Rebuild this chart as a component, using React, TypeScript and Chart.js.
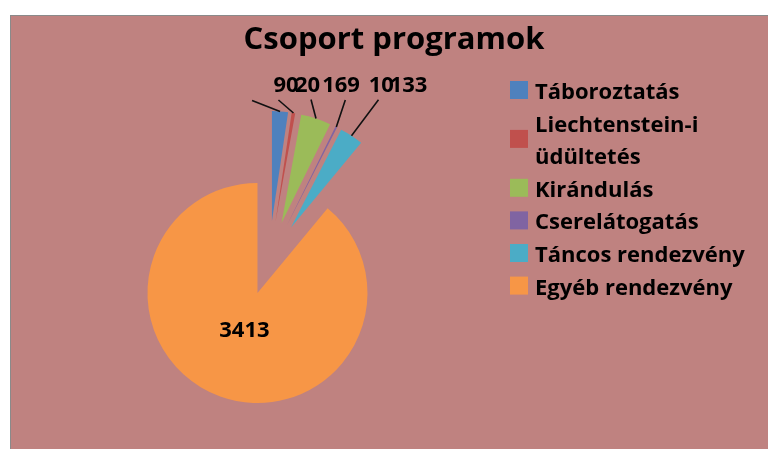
import React, { useEffect, useRef } from "react";
import { Chart, registerables } from "chart.js";

Chart.register(...registerables);

// ---- data ----
const title = "Csoport programok";
const categories = [
  "Táboroztatás",
  "Liechtenstein-i\nüdültetés",
  "Kirándulás",
  "Cserelátogatás",
  "Táncos rendezvény",
  "Egyéb rendezvény",
];
const values = [90, 20, 169, 10, 133, 3413];
const colors = ["#4F81BD", "#C0504D", "#9BBB59", "#8064A2", "#4BACC6", "#F79646"];

// ---- layout / style (not data) ----
const explodePx = [40, 40, 40, 40, 40, 34]; // slice explosion distance
const labelTextOffsets: (number[] | null)[] = [
  [6, -19],
  [14, -21],
  [25, -27],
  [45, -35],
  [57, -44],
  null,
];
const leaderOffsets: (number[] | null)[] = [
  [-28, -11],
  [-15, -13],
  [-5, -19],
  [9, -27],
  [27, -36],
  null,
];
const FONT = "'Open Sans', Lato, sans-serif";

const explodePlugin = {
  id: "explode",
  beforeDatasetsDraw(chart: any) {
    const meta = chart.getDatasetMeta(0);
    meta.data.forEach((arc: any, i: number) => {
      const mid = (arc.startAngle + arc.endAngle) / 2;
      arc._origX = arc.x;
      arc._origY = arc.y;
      arc.x = arc.x + Math.cos(mid) * explodePx[i];
      arc.y = arc.y + Math.sin(mid) * explodePx[i];
    });
  },
  afterDatasetsDraw(chart: any) {
    const ctx = chart.ctx as CanvasRenderingContext2D;
    const meta = chart.getDatasetMeta(0);
    ctx.save();
    ctx.fillStyle = "#000";
    ctx.strokeStyle = "#111";
    ctx.lineWidth = 1.6;
    ctx.font = `bold 22px ${FONT}`;
    ctx.textAlign = "center";
    ctx.textBaseline = "alphabetic";
    meta.data.forEach((arc: any, i: number) => {
      const mid = (arc.startAngle + arc.endAngle) / 2;
      const R = arc.outerRadius;
      const vx = arc.x;
      const vy = arc.y;
      const txt = String(values[i]);
      const lo = leaderOffsets[i];
      const to = labelTextOffsets[i];
      if (lo && to) {
        const px = vx + Math.cos(mid) * R;
        const py = vy + Math.sin(mid) * R;
        ctx.beginPath();
        ctx.moveTo(px, py);
        ctx.lineTo(px + lo[0], py + lo[1]);
        ctx.stroke();
        ctx.fillText(txt, px + to[0], py + to[1]);
      } else {
        const d = R * 0.35;
        const cx = vx + Math.cos(mid) * d;
        const cy = vy + Math.sin(mid) * d;
        ctx.fillText(txt, cx, cy + 8);
      }
      if (arc._origX !== undefined) {
        arc.x = arc._origX;
        arc.y = arc._origY;
      }
    });
    ctx.restore();
  },
  afterDraw(chart: any) {
    const ctx = chart.ctx as CanvasRenderingContext2D;
    ctx.save();
    // title
    ctx.fillStyle = "#000";
    ctx.font = `bold 31px ${FONT}`;
    ctx.textAlign = "center";
    ctx.textBaseline = "alphabetic";
    ctx.fillText(title, 383, 33);
    // legend
    const lineH = 32.6;
    let top = 57.7;
    ctx.font = `bold 22px ${FONT}`;
    ctx.textAlign = "left";
    categories.forEach((c, i) => {
      const lines = c.split("\n");
      const h = lines.length * lineH;
      const center = top + h / 2;
      ctx.fillStyle = colors[i];
      ctx.fillRect(499, center - 9, 18, 18);
      ctx.fillStyle = "#000";
      lines.forEach((ln, j) => {
        const lc = top + lineH * (j + 0.5);
        ctx.fillText(ln, 524, lc + 9);
      });
      top += h;
    });
    ctx.restore();
  },
};

export default function App() {
  const ref = useRef<HTMLCanvasElement>(null);
  useEffect(() => {
    if (!ref.current) return;
    const chart = new Chart(ref.current, {
      type: "pie",
      data: {
        labels: categories.map((c) => c.replace("\n", " ")),
        datasets: [
          {
            data: values,
            backgroundColor: colors,
            borderWidth: 0,
            radius: 110,
            clip: false as any,
          } as any,
        ],
      },
      options: {
        responsive: false,
        animation: false,
        layout: { padding: { left: 108, right: 349, top: 95, bottom: 38 } },
        plugins: {
          legend: { display: false },
          title: { display: false },
          tooltip: { enabled: false },
        },
      } as any,
      plugins: [explodePlugin],
    });
    return () => chart.destroy();
  }, []);
  return (
    <div
      style={{
        position: "absolute",
        left: 10,
        top: 15,
        width: 758,
        height: 434,
        boxSizing: "border-box",
        borderTop: "1px solid #8a8a8a",
        borderLeft: "1px solid #8a8a8a",
        background: "#BF8280",
        overflow: "hidden",
      }}
    >
      <canvas ref={ref} width={757} height={433} style={{ display: "block" }} />
    </div>
  );
}
